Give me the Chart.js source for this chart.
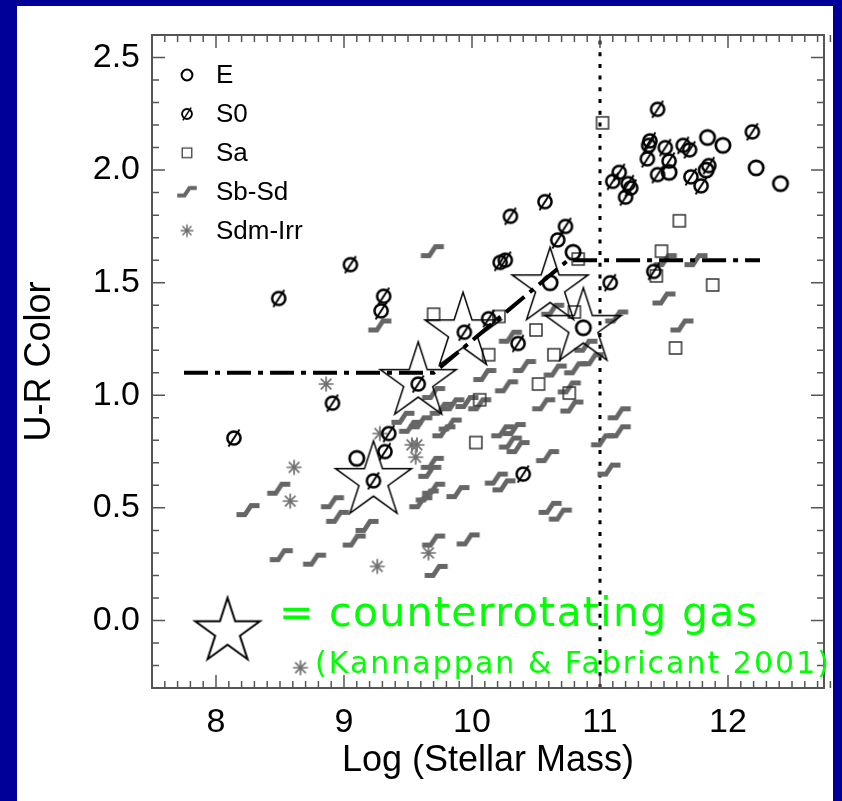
<!DOCTYPE html>
<html>
<head>
<meta charset="utf-8">
<script src="https://cdn.jsdelivr.net/npm/chart.js@4.4.1/dist/chart.umd.min.js"></script>
<style>
  html, body { margin: 0; padding: 0; background: #000099; }
  canvas { display: block; }
</style>
</head>
<body>
<canvas id="c" width="842" height="801"></canvas>
<script>
// ---------------- data ----------------
const categories = ['E', 'S0', 'Sa', 'Sb-Sd', 'Sdm-Irr'];
const xTicks = [8, 9, 10, 11, 12];
const yTicks = [0, 0.5, 1.0, 1.5, 2.0, 2.5];

const ePoints = [[9.10,0.72],[10.61,1.50],[10.87,1.30],[10.79,1.635],[11.84,2.145],
  [11.96,2.11],[11.54,1.99],[11.83,2.00],[12.22,2.01],[12.41,1.94]];

const s0Points = [[8.14,0.81],[8.49,1.43],[8.91,0.965],[9.05,1.58],[9.31,1.44],[9.29,1.375],
  [9.35,0.83],[9.32,0.75],[9.23,0.62],[9.58,1.05],[9.94,1.28],[10.13,1.34],[10.22,1.59],
  [10.26,1.60],[10.36,1.23],[10.30,1.795],[10.57,1.86],[10.73,1.75],[10.67,1.69],[10.40,0.65],
  [11.08,1.50],[11.42,1.55],[11.45,2.27],[11.39,2.13],[11.38,2.11],[11.51,2.10],[11.65,2.11],
  [11.70,2.09],[12.19,2.17],[11.37,2.05],[11.54,2.04],[11.45,1.98],[11.85,2.02],[11.71,1.97],
  [11.79,1.93],[11.15,1.99],[11.10,1.95],[11.22,1.94],[11.24,1.92],[11.20,1.88]];

const saPoints = [[11.02,2.21],[11.62,1.775],[10.83,1.605],[11.48,1.64],[11.44,1.53],[11.88,1.49],
  [11.59,1.21],[9.70,1.36],[10.21,1.35],[10.50,1.29],[10.80,1.37],[10.13,1.18],[10.64,1.18],
  [10.52,1.05],[10.76,1.01],[10.06,0.98],[10.03,0.79]];

const sbsdPoints = [[10.63,1.38],[10.30,1.26],[10.41,1.13],[10.10,1.09],[10.65,1.11],[10.81,1.12],
  [10.94,1.16],[10.89,1.22],[11.13,1.35],[10.27,1.04],[10.56,0.96],[10.76,1.035],[10.78,0.95],
  [9.85,0.96],[9.96,0.97],[10.06,0.96],[9.83,0.87],[10.24,0.84],[10.33,0.85],[10.30,0.79],
  [10.36,0.77],[10.59,0.73],[11.15,0.92],[11.15,0.84],[11.02,0.80],[11.07,0.67],[10.19,0.63],
  [10.25,0.60],[11.51,1.60],[11.75,1.60],[11.50,1.43],[11.64,1.31],[9.69,1.64],[9.28,1.31],
  [9.70,1.01],[9.76,0.94],[9.60,0.88],[9.46,0.90],[9.78,0.84],[9.52,0.86],[8.49,0.585],
  [8.25,0.49],[8.91,0.525],[8.95,0.46],[9.18,0.42],[9.08,0.355],[8.51,0.29],[8.77,0.27],
  [9.72,0.22],[9.70,0.355],[9.97,0.36],[9.67,0.66],[9.69,0.70],[9.65,0.555],[9.60,0.525],
  [9.70,0.585],[9.89,0.57],[10.61,0.50],[10.69,0.47]];

const sdmPoints = [[8.86,1.05],[8.61,0.68],[8.58,0.53],[9.28,0.83],[9.53,0.78],[9.57,0.78],
  [9.56,0.725],[9.26,0.24],[9.66,0.30],[8.66,-0.21]];

const counterRotPoints = [[9.23,0.62],[9.58,1.06],[9.93,1.28],[10.61,1.48],[10.87,1.30]];
const keyStarPoint = [[8.09,-0.05]];

const divideLine = [[7.75,1.1],[9.7,1.1],[10.75,1.6],[12.25,1.6]];
const massCut = [[11,-0.3],[11,2.6]];

const annotationMain = '= counterrotating gas';
const annotationRef = '(Kannappan & Fabricant 2001)';

// ---------------- markers ----------------
function mk(size, s, draw) {
  const c = document.createElement('canvas');
  c.width = size; c.height = size;
  const g = c.getContext('2d');
  g.translate(size / 2, size / 2);
  g.scale(s, s);
  draw(g);
  return c;
}
const drawE = g => { g.strokeStyle = '#000'; g.lineWidth = 2.7; g.beginPath(); g.arc(0,0,7.2,0,Math.PI*2); g.stroke(); };
const drawS0 = g => { g.strokeStyle = '#000'; g.lineWidth = 2.5; g.beginPath(); g.arc(0,0,6.6,0,Math.PI*2); g.stroke();
  g.lineWidth = 2; g.beginPath(); g.moveTo(-5.5,8.5); g.lineTo(5.5,-8.5); g.stroke(); };
const drawSa = g => { g.strokeStyle = '#333'; g.lineWidth = 1.5; g.strokeRect(-6,-6,12,12); };
const drawSb = g => { g.strokeStyle = '#666'; g.lineWidth = 4.8; g.lineJoin = 'miter'; g.beginPath();
  g.moveTo(-11.5,4.5); g.lineTo(-3,4.5); g.lineTo(3,-4.5); g.lineTo(11.5,-4.5); g.stroke(); };
const drawSdm = g => { g.strokeStyle = '#707070'; g.lineWidth = 1.7; g.beginPath();
  g.moveTo(0,-7.5); g.lineTo(0,7.5); g.moveTo(-7.5,0); g.lineTo(7.5,0);
  g.moveTo(-5.3,-5.3); g.lineTo(5.3,5.3); g.moveTo(-5.3,5.3); g.lineTo(5.3,-5.3); g.stroke(); };
function starDrawer(R, lw) {
  return g => { g.strokeStyle = '#000'; g.lineWidth = lw; g.lineJoin = 'miter'; g.beginPath();
    const r = R * 0.382;
    for (let i = 0; i < 10; i++) {
      const a = -Math.PI / 2 + i * Math.PI / 5;
      const rr = i % 2 ? r : R;
      const px = rr * Math.cos(a), py = rr * Math.sin(a);
      if (i) g.lineTo(px, py); else g.moveTo(px, py);
    }
    g.closePath(); g.stroke(); };
}
const mE = mk(22, 1, drawE), mS0 = mk(24, 1, drawS0), mSa = mk(18, 1, drawSa),
      mSb = mk(32, 1, drawSb), mSdm = mk(20, 1, drawSdm);
const mStar = mk(92, 1, starDrawer(40, 1.5));
const mKeyStar = mk(80, 1, starDrawer(34, 2));
const legendMarks = [mk(22,0.75,drawE), mk(24,0.75,drawS0), mk(18,0.8,drawSa), mk(32,0.85,drawSb), mk(20,0.85,drawSdm)];

const toXY = a => a.map(p => ({x: p[0], y: p[1]}));

// ---------------- plugins ----------------
const FONT = "'Liberation Sans', Arial, Helvetica, sans-serif";
const COMIC = "'Comic Sans MS', 'DejaVu Sans', sans-serif";
const bgPlugin = {
  id: 'bg',
  beforeDraw(chart) {
    const ctx = chart.ctx;
    ctx.save();
    ctx.fillStyle = '#000099';
    ctx.fillRect(0, 0, chart.width, chart.height);
    ctx.fillStyle = '#ffffff';
    ctx.fillRect(17, 6, 816, 795);
    ctx.restore();
  }
};
const framePlugin = {
  id: 'frame',
  afterDatasetsDraw(chart) {
    const {ctx, chartArea: a, scales: {x, y}} = chart;
    ctx.save();
    ctx.strokeStyle = '#555';
    ctx.lineWidth = 2;
    ctx.strokeRect(a.left, a.top, a.right - a.left, a.bottom - a.top);
    ctx.lineWidth = 1.5;
    ctx.beginPath();
    for (let i = Math.round(x.min * 10); i <= Math.round(x.max * 10); i++) {
      const px = x.getPixelForValue(i / 10);
      const len = (i % 10 === 0) ? 13 : 7;
      ctx.moveTo(px, a.bottom); ctx.lineTo(px, a.bottom - len);
      ctx.moveTo(px, a.top); ctx.lineTo(px, a.top + len);
    }
    for (let i = Math.round(y.min * 10); i <= Math.round(y.max * 10); i++) {
      const py = y.getPixelForValue(i / 10);
      const len = (i % 5 === 0) ? 13 : 7;
      ctx.moveTo(a.left, py); ctx.lineTo(a.left + len, py);
      ctx.moveTo(a.right, py); ctx.lineTo(a.right - len, py);
    }
    ctx.stroke();

    // legend
    ctx.fillStyle = '#000';
    ctx.font = '26px ' + FONT;
    ctx.textBaseline = 'middle';
    ctx.textAlign = 'left';
    categories.forEach((name, i) => {
      const yy = 75 + i * 38.9;
      const m = legendMarks[i];
      ctx.drawImage(m, 187 - m.width / 2, yy - m.height / 2);
      ctx.fillText(name, 216, yy + 1);
    });

    // annotation text, stretched to the reference extent
    ctx.fillStyle = '#00ff00';
    ctx.textBaseline = 'alphabetic';
    function fitText(txt, x0, baseline, targetW, size) {
      ctx.font = size + 'px ' + COMIC;
      if ('letterSpacing' in ctx) ctx.letterSpacing = '0px';
      const w = ctx.measureText(txt).width;
      if ('letterSpacing' in ctx) {
        const sp = (targetW - w) / (txt.length - 1);
        ctx.letterSpacing = sp.toFixed(2) + 'px';
      } else {
        ctx.font = (size * targetW / w) + 'px ' + COMIC;
      }
      ctx.fillText(txt, x0, baseline);
      if ('letterSpacing' in ctx) ctx.letterSpacing = '0px';
    }
    fitText(annotationMain, 279, 626, 478, 41);
    fitText(annotationRef, 315, 673, 514, 30);
    ctx.restore();
  }
};

// ---------------- chart ----------------
const pt = (data, img, order) => ({
  type: 'scatter', data: toXY(data), pointStyle: img, pointRadius: 8, pointHoverRadius: 8, order,
  clip: false
});

new Chart(document.getElementById('c'), {
  type: 'scatter',
  data: {
    datasets: [
      Object.assign(pt(counterRotPoints, mStar, 0), {label: 'counterrotating'}),
      Object.assign(pt(ePoints, mE, 1), {label: categories[0]}),
      Object.assign(pt(s0Points, mS0, 2), {label: categories[1]}),
      Object.assign(pt(saPoints, mSa, 3), {label: categories[2]}),
      Object.assign(pt(sbsdPoints, mSb, 4), {label: categories[3]}),
      Object.assign(pt(sdmPoints, mSdm, 5), {label: categories[4]}),
      Object.assign(pt(keyStarPoint, mKeyStar, 6), {label: 'key'}),
      { label: 'divide', data: toXY(divideLine), showLine: true, borderColor: '#000', borderWidth: 4,
        borderDash: [24, 7, 5, 7], pointRadius: 0, order: 1 },
      { label: 'cut', data: toXY(massCut), showLine: true, borderColor: '#000', borderWidth: 3,
        borderDash: [4, 7.7], pointRadius: 0, order: 7 }
    ]
  },
  options: {
    responsive: false,
    animation: false,
    devicePixelRatio: 1,
    layout: { padding: { left: 0, right: 18, top: 35, bottom: 0 } },
    plugins: { legend: { display: false }, tooltip: { enabled: false } },
    scales: {
      x: {
        type: 'linear', position: 'bottom', min: 7.5, max: 12.75,
        grid: { display: false, drawTicks: false }, border: { display: false },
        afterBuildTicks: s => { s.ticks = xTicks.map(v => ({value: v})); },
        afterFit: s => { s.height = 113; },
        ticks: { color: '#000', padding: 14, font: { family: FONT, size: 34 }, callback: v => String(v) },
        title: { display: true, text: 'Log (Stellar Mass)', color: '#000',
          font: { family: FONT, size: 36 }, padding: { top: 0, bottom: 18 } }
      },
      y: {
        type: 'linear', position: 'left', min: -0.3, max: 2.6,
        grid: { display: false, drawTicks: false }, border: { display: false },
        afterBuildTicks: s => { s.ticks = yTicks.map(v => ({value: v})); },
        afterFit: s => { s.width = 152; },
        ticks: { color: '#000', padding: 12, font: { family: FONT, size: 34 }, callback: v => Number(v).toFixed(1) },
        title: { display: true, text: 'U-R Color', color: '#000',
          font: { family: FONT, size: 36 }, padding: { top: 18, bottom: 0 } }
      }
    }
  },
  plugins: [bgPlugin, framePlugin]
});
</script>
</body>
</html>
